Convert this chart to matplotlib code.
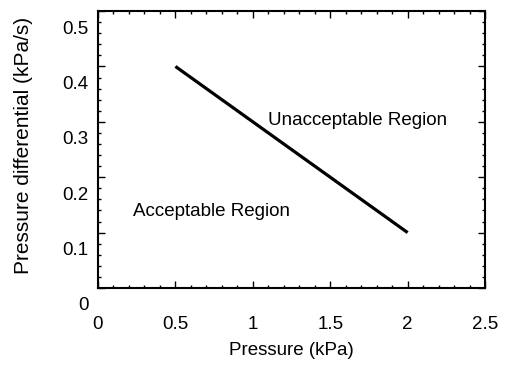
import matplotlib
matplotlib.use("Agg")
import matplotlib.pyplot as plt
from matplotlib.ticker import MultipleLocator
from matplotlib.transforms import ScaledTranslation

plt.rcParams['font.family'] = ['Liberation Sans', 'DejaVu Sans']

# Data
pressure = [0.5, 2.0]
pressure_diff = [0.40, 0.10]
xticks = [0, 0.5, 1, 1.5, 2, 2.5]
xticklabels = ['0', '0.5', '1', '1.5', '2', '2.5']
yticks = [0, 0.1, 0.2, 0.3, 0.4, 0.5]
yticklabels = ['0', '0.1', '0.2', '0.3', '0.4', '0.5']

FS = 13.5

fig = plt.figure(figsize=(5.09, 3.68), dpi=100)
ax = fig.add_axes([0.1925, 0.2174, 0.7605, 0.7526])

ax.plot(pressure, pressure_diff, color='black', linewidth=2.3, solid_capstyle='butt')

ax.set_xlim(0, 2.5)
ax.set_ylim(0, 0.5)
ax.set_xticks(xticks)
ax.set_xticklabels(xticklabels)
ax.set_yticks(yticks)
ax.set_yticklabels(yticklabels)
ax.xaxis.set_minor_locator(MultipleLocator(0.1))
ax.yaxis.set_minor_locator(MultipleLocator(0.02))

ax.tick_params(which='both', direction='in', top=True, right=True, width=1.0)
ax.tick_params(which='major', length=5)
ax.tick_params(which='minor', length=2.5)
ax.tick_params(axis='x', which='major', pad=20, labelsize=FS)
ax.tick_params(axis='y', which='major', pad=7, labelsize=FS)

for s in ax.spines.values():
    s.set_linewidth(1.5)

# y tick labels appear shifted downward in the reference
off = ScaledTranslation(0, -0.16, fig.dpi_scale_trans)
for lab in ax.get_yticklabels():
    lab.set_transform(lab.get_transform() + off)

ax.text(1.10, 0.303, 'Unacceptable Region', fontsize=FS, va='center', ha='left')
ax.text(0.226, 0.139, 'Acceptable Region', fontsize=FS, va='center', ha='left')

ax.set_xlabel('Pressure (kPa)', fontsize=FS, labelpad=7)
ax.set_ylabel('Pressure differential (kPa/s)', fontsize=15, labelpad=21, y=0.516)

fig.savefig('out.png', dpi=100)
